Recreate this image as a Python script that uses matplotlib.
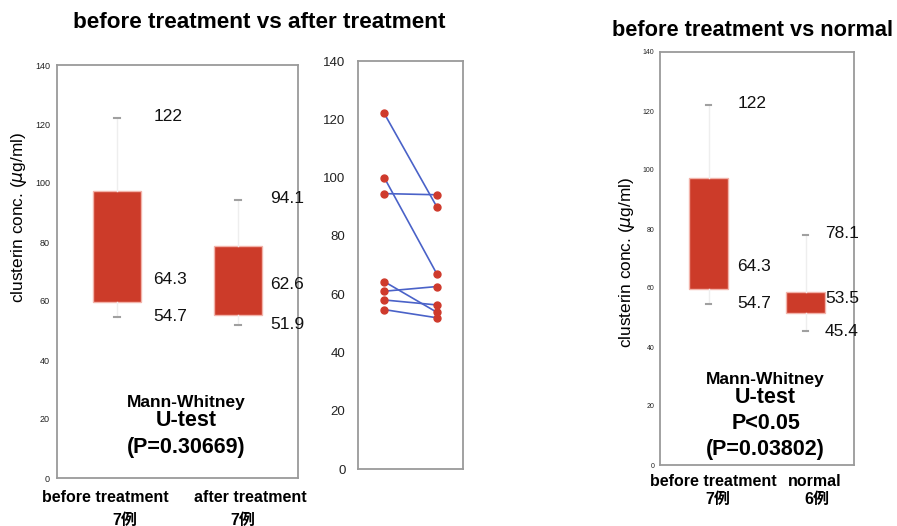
import matplotlib
matplotlib.use('Agg')
import matplotlib.pyplot as plt

plt.rcParams['font.family'] = ['Liberation Sans', 'Noto Sans CJK JP', 'DejaVu Sans']
plt.rcParams['mathtext.fontset'] = 'dejavusans'

# paired values, before vs after treatment
before = [122.0, 100.0, 94.5, 64.3, 61.0, 58.0, 54.7]
after = [90.0, 67.0, 94.1, 53.8, 62.6, 56.3, 51.9]

# box statistics: low whisker, q1, median, q3, high whisker
groups_a = ['before treatment', 'after treatment']
counts_a = ['7例', '7例']
whislo_a = [54.7, 51.9]
q1_a = [59.5, 55.1]
med_a = [64.3, 62.6]
q3_a = [97.2, 78.5]
whishi_a = [122.0, 94.1]
p_text_a = ['Mann-Whitney', 'U-test', '(P=0.30669)']

groups_b = ['before treatment', 'normal']
counts_b = ['7例', '6例']
whislo_b = [54.7, 45.4]
q1_b = [59.5, 51.4]
med_b = [64.3, 53.5]
q3_b = [97.2, 58.7]
whishi_b = [122.0, 78.1]
p_text_b = ['Mann-Whitney', 'U-test', 'P<0.05', '(P=0.03802)']

yticks = [0, 20, 40, 60, 80, 100, 120, 140]

W, H = 897, 526
RED = '#cc3b29'
SPINE = '#9a9a9a'


def px_axes(fig, x0, y0, x1, y1):
    return fig.add_axes([x0 / W, 1 - y1 / H, (x1 - x0) / W, (y1 - y0) / H])


def style(ax, tsize, pad):
    ax.set_xlim(0.5, 2.5)
    ax.set_ylim(0, 140)
    ax.set_yticks(yticks)
    ax.set_xticks([])
    ax.tick_params(axis='y', length=0, labelsize=tsize, pad=pad, labelcolor='#222222')
    for s in ax.spines.values():
        s.set_color(SPINE)
        s.set_linewidth(1.3)


def boxes(ax, lo, q1, med, q3, hi):
    stats = [dict(whislo=lo[i], q1=q1[i], med=med[i], q3=q3[i], whishi=hi[i])
             for i in range(len(lo))]
    ax.bxp(stats, positions=[1, 2], widths=0.4, patch_artist=True,
           showfliers=False, capwidths=0.05, manage_ticks=False,
           boxprops=dict(facecolor=RED, edgecolor='#f2b3aa', linewidth=1.0),
           medianprops=dict(linewidth=0),
           whiskerprops=dict(color='#eeeeee', linewidth=1.0),
           capprops=dict(color='#a0a0a0', linewidth=1.5))


def value_labels(ax, xs, lo, med, hi, med_shift):
    for i, x in enumerate(xs):
        for v, dy in ((hi[i], 0.5), (med[i], med_shift), (lo[i], 0)):
            ax.text(x, v + dy, '%g' % v if v != int(v) else '%d' % v,
                    fontsize=12.5, va='center', ha='left', color='#111111')


fig = plt.figure(figsize=(W / 100, H / 100), dpi=100)

# --- left box panel ---
ax1 = px_axes(fig, 57, 65, 298, 478)
style(ax1, 6.5, 5)
boxes(ax1, whislo_a, q1_a, med_a, q3_a, whishi_a)
value_labels(ax1, [1.3, 2.27], whislo_a, med_a, whishi_a, 3)
ax1.set_ylabel(r'clusterin conc. ($\mu$g/ml)', fontsize=12.4)
ax1.yaxis.set_label_coords(-0.115, 0.63)
for txt, y, fs in zip(p_text_a, [25.6, 19.6, 10.5], [12.5, 15.5, 15.5]):
    ax1.text(0.535, y, txt, transform=ax1.get_yaxis_transform(), ha='center',
             va='center', fontsize=fs, fontweight='bold')

# --- paired panel ---
ax2 = px_axes(fig, 358, 61, 463, 469)
style(ax2, 9.5, 9)
for b, a in zip(before, after):
    ax2.plot([1, 2], [b, a], color='#4a62c8', lw=1.2, zorder=2)
ax2.plot([1] * len(before), before, 'o', color='#cf3a2c', ms=5, zorder=3)
ax2.plot([2] * len(after), after, 'o', color='#cf3a2c', ms=5, zorder=3)

# --- right box panel ---
ax3 = px_axes(fig, 660, 52, 854, 465)
style(ax3, 5, 4)
boxes(ax3, whislo_b, q1_b, med_b, q3_b, whishi_b)
value_labels(ax3, [1.3, 2.2], whislo_b, med_b, whishi_b, 3)
ax3.set_ylabel(r'clusterin conc. ($\mu$g/ml)', fontsize=12.4)
ax3.yaxis.set_label_coords(-0.12, 0.49)
for txt, y, fs in zip(p_text_b, [29.0, 22.8, 14.1, 5.1], [12.5, 15.5, 15.5, 15.5]):
    ax3.text(0.545, y, txt, transform=ax3.get_yaxis_transform(), ha='center',
             va='center', fontsize=fs, fontweight='bold')

# titles
fig.text(259 / W, 1 - 22 / H, 'before treatment vs after treatment',
         ha='center', va='center', fontsize=16.2, fontweight='bold')
fig.text(752 / W, 1 - 31 / H, 'before treatment vs normal',
         ha='center', va='center', fontsize=15.7, fontweight='bold')

# category labels
for g, c, x1, x2 in zip(groups_a, counts_a, [105, 250], [125, 243]):
    fig.text(x1 / W, 1 - 498 / H, g, ha='center', va='center', fontsize=11.5, fontweight='bold')
    fig.text(x2 / W, 1 - 520 / H, c, ha='center', va='center', fontsize=11.5, fontweight='bold')
for g, c, x1, x2 in zip(groups_b, counts_b, [713, 815], [718, 817]):
    fig.text(x1 / W, 1 - 481 / H, g, ha='center', va='center', fontsize=11.5, fontweight='bold')
    fig.text(x2 / W, 1 - 499 / H, c, ha='center', va='center', fontsize=11.5, fontweight='bold')

fig.savefig('out.png', dpi=100)
